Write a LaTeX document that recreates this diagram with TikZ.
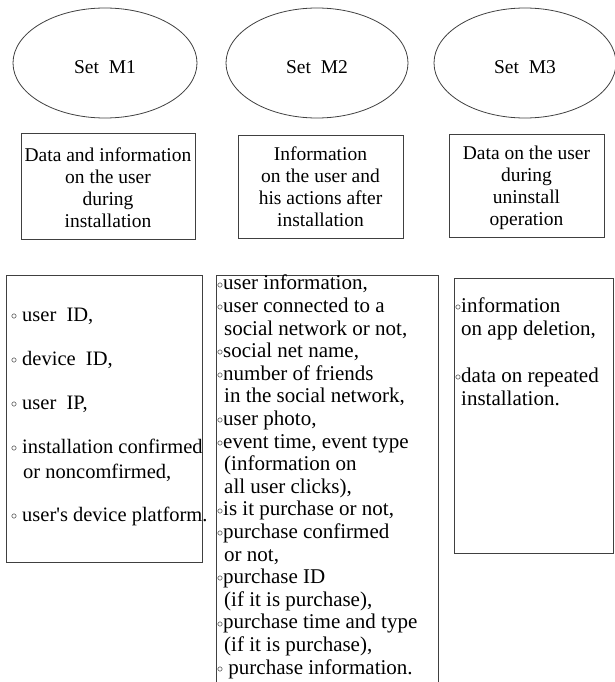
\documentclass[tikz,border=0pt]{standalone}
\usepackage{fontspec}
\setmainfont{Liberation Serif}
\newfontfamily\nomap{Liberation Serif}
\usetikzlibrary{shapes.geometric}
\newcommand{\bul}[1][6pt]{\makebox[#1][l]{\raisebox{1.8pt}{\fontsize{12}{12}\selectfont$\circ$}}}
\newcommand{\ind}[1][7pt]{\hspace*{#1}}
\begin{document}
\begin{tikzpicture}[x=1pt,y=-1pt,
  lin/.style={draw=black!75,line width=0.8pt},
  setell/.style={ellipse,lin,minimum width=184pt,minimum height=110pt,inner sep=0pt},
  settxt/.style={inner sep=0pt,font=\fontsize{19.5}{22}\selectfont},
  headbox/.style={rectangle,lin,inner sep=0pt},
  headtxt/.style={align=center,inner sep=0pt,font=\fontsize{19.5}{22}\selectfont},
  listtxt/.style={align=left,inner sep=0pt,anchor=base west},
]
\useasboundingbox (0,0) rectangle (614,682);
% ellipses
\node[setell] (m1) at (105,63) {};
\node[settxt] (s1) at (105,67) {Set\ \ M1};
\node[setell,minimum width=182pt] (m2) at (317,63) {};
\node[settxt] (s2) at (317,67) {Set\ \ M2};
\node[setell,minimum width=182pt] (m3) at (525,63) {};
\node[settxt] (s3) at (525,67) {Set\ \ M3};
% header boxes
\node[headbox,minimum width=174pt,minimum height=106pt] (h1) at (108,186) {};
\node[headtxt] (t1) at (108,188) {Data and information\\on the user\\during\\installation};
\node[headbox,minimum width=165pt,minimum height=103pt] (h2) at (320.5,186.5) {};
\node[headtxt] (t2) at (320.5,186.5) {Information\\on the user and\\his actions after\\installation};
\node[headbox,minimum width=155pt,minimum height=103pt] (h3) at (526.5,185.5) {};
\node[headtxt] (t3) at (526.5,188) {Data on the user\\during\\uninstall\\operation};
% list box 1
\node[headbox,minimum width=196pt,minimum height=287pt] (b1) at (104,418.5) {};
\node[listtxt,font=\fontsize{20.5}{25}\selectfont] (l1) at (11,521.5)
  {\bul[11pt]user\ \ ID,\\[19pt]
   \bul[11pt]device\ \ ID,\\[19pt]
   \bul[11pt]user\ \ IP,\\[19pt]
   \bul[11pt]installation confirmed\\
   \ind[12pt]or noncomfirmed,\\[18pt]
   \bul[11pt]user{\nomap'}s device platform.};
% list box 2 (open at the bottom)
\coordinate (b2bl) at (216,682);
\coordinate (b2tl) at (216,275);
\coordinate (b2tr) at (438,275);
\coordinate (b2br) at (438,682);
\draw[lin] (b2bl) -- (b2tl) -- (b2tr) -- (b2br);
\node[listtxt,font=\fontsize{21}{22.6}\selectfont] (l2) at (217,674)
  {\bul user information,\\
   \bul user connected to a\\
   \ind social network or not,\\
   \bul social net name,\\
   \bul number of friends\\
   \ind in the social network,\\
   \bul user photo,\\
   \bul event time, event type\\
   \ind (information on\\
   \ind all user clicks),\\
   \bul is it purchase or not,\\
   \bul purchase confirmed\\
   \ind or not,\\
   \bul purchase ID\\
   \ind (if it is purchase),\\
   \bul purchase time and type\\
   \ind (if it is purchase),\\
   \bul\ purchase information.};
% list box 3
\node[headbox,minimum width=159pt,minimum height=275pt] (b3) at (533.5,415.5) {};
\node[listtxt,font=\fontsize{21}{23}\selectfont] (l3) at (455,405.5)
  {\bul information\\
   \ind[6pt]on app deletion,\\[24pt]
   \bul data on repeated\\
   \ind[6pt]installation.};
\end{tikzpicture}
\end{document}
